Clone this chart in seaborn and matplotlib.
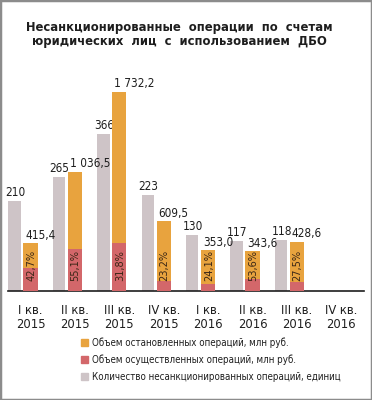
import os
import seaborn as sns
import matplotlib.pyplot as plt
from matplotlib import font_manager as fm
from matplotlib.patches import Patch, Rectangle

quarters = ["I кв.\n2015", "II кв.\n2015", "III кв.\n2015", "IV кв.\n2015",
            "I кв.\n2016", "II кв.\n2016", "III кв.\n2016", "IV кв.\n2016"]
counts = [210, 265, 366, 223, 130, 117, 118]
stopped = [415.4, 1036.5, 1732.2, 609.5, 353.0, 343.6, 428.6]
executed = [200, 368, 421, 90, 64, 103, 79]
stopped_labels = ["415,4", "1 036,5", "1 732,2", "609,5", "353,0", "343,6", "428,6"]
shares = ["42,7%", "55,1%", "31,8%", "23,2%", "24,1%", "53,6%", "27,5%"]
legend_labels = ["Объем остановленных операций, млн руб.",
                 "Объем осуществленных операций, млн руб.",
                 "Количество несанкционированных операций, единиц"]

ORANGE = "#E8A33E"
RED = "#D3676A"
GRAY = "#CEC4C7"
TEXT = "#1e1e1e"

sns.set_style("white")
plt.rcParams["font.family"] = ["DejaVu Sans"]


def width_kind(fn):
    if "Narrow" in fn:
        return "narrow"
    if "ExtraCondensed" in fn:
        return "extra"
    if "Condensed" in fn and "Semi" not in fn and "Ultra" not in fn:
        return "cond"
    return None


def narrow_file(bold):
    # find a condensed face among the installed fonts
    want = (700,) if bold else (400,)
    for kind in ("narrow", "extra", "cond"):
        for fam in ("Liberation Sans Narrow", "Noto Sans", "DejaVu Sans", "Roboto", "Open Sans"):
            for f in fm.fontManager.ttflist:
                fn = os.path.basename(f.fname).replace(" ", "")
                if f.name == fam and f.style == "normal" and f.weight in want \
                        and width_kind(fn) == kind:
                    return f.fname
    return None


reg_file = narrow_file(False)
bold_file = narrow_file(True) or reg_file


def fp(size, bold=False):
    path = bold_file if bold else reg_file
    if path:
        return fm.FontProperties(fname=path, size=size)
    return fm.FontProperties(family="DejaVu Sans", size=size * 0.9,
                             weight="bold" if bold else "normal")


fig = plt.figure(figsize=(3.72, 4.0), dpi=100)
ax1 = fig.add_axes([8.3 / 372, 0.2725, 355.2 / 372, 0.5275])
ax2 = ax1.twinx()

gray_x = [k + 0.14 for k in range(len(counts))]
bar_x = [k + 0.5 for k in range(len(stopped))]

sns.barplot(x=gray_x, y=counts, native_scale=True, width=0.28, color=GRAY,
            saturation=1, errorbar=None, linewidth=0, ax=ax1)
sns.barplot(x=bar_x, y=stopped, native_scale=True, width=0.32, color=ORANGE,
            saturation=1, errorbar=None, linewidth=0, ax=ax2)
sns.barplot(x=bar_x, y=executed, native_scale=True, width=0.32, color=RED,
            saturation=1, errorbar=None, linewidth=0, ax=ax2)

ax1.set_xlim(0, 8)
ax1.set_ylim(0, 491)
ax2.set_ylim(0, 1835)

for x, c in zip(gray_x, counts):
    ax1.annotate(str(c), xy=(x, c), xytext=(0.5, 1.5), textcoords="offset points",
                 ha="center", va="bottom", fontproperties=fp(8.5), color=TEXT)
for x, v, lab in zip(bar_x, stopped, stopped_labels):
    ax2.annotate(lab, xy=(x - 0.16, v), xytext=(1.5, 1), textcoords="offset points",
                 ha="left", va="bottom", fontproperties=fp(8.5), color=TEXT)
for x, s in zip(bar_x, shares):
    ax2.annotate(s, xy=(x, 0), xytext=(0.5, 7), textcoords="offset points",
                 ha="center", va="bottom", rotation=90, fontproperties=fp(7.8),
                 color="#3a2616")

ax1.set_xticks(range(9))
ax1.set_xticklabels([""] * 9)
ax1.set_xticks([k + 0.5 for k in range(8)], minor=True)
ax1.set_xticklabels(quarters, minor=True, color=TEXT, linespacing=1.2)
for lab in ax1.get_xticklabels(minor=True):
    lab.set_fontproperties(fp(9.3))
ax1.tick_params(axis="x", which="major", length=5, width=1.2, color=TEXT, direction="out")
ax1.tick_params(axis="x", which="minor", length=0, pad=9)
ax1.set_yticks([])
ax2.set_yticks([])
ax1.set_xlabel("")
ax1.set_ylabel("")
ax2.set_ylabel("")
for ax in (ax1, ax2):
    for side in ("top", "right", "left"):
        ax.spines[side].set_visible(False)
ax2.spines["bottom"].set_visible(False)
ax1.spines["bottom"].set_color(TEXT)
ax1.spines["bottom"].set_linewidth(1.2)
ax1.patch.set_visible(False)

fig.text(0.482, 0.931, "Несанкционированные  операции  по  счетам",
         ha="center", va="center", fontproperties=fp(9.3, True), color=TEXT)
fig.text(0.482, 0.896, "юридических  лиц  с  использованием  ДБО",
         ha="center", va="center", fontproperties=fp(9.3, True), color=TEXT)

handles = [Patch(color=ORANGE), Patch(color=RED), Patch(color=GRAY)]
fig.legend(handles, legend_labels, loc="upper left", bbox_to_anchor=(0.218, 0.157),
           frameon=False, prop=fp(7.0), handlelength=0.75, handleheight=0.75,
           handletextpad=0.4, labelspacing=0.68, borderpad=0, borderaxespad=0,
           labelcolor=TEXT)

fig.add_artist(Rectangle((0, 0), 1, 1, transform=fig.transFigure, fill=False,
                         edgecolor="#8c8c8c", linewidth=2.5))

fig.savefig("out.png", dpi=100, facecolor="white")
